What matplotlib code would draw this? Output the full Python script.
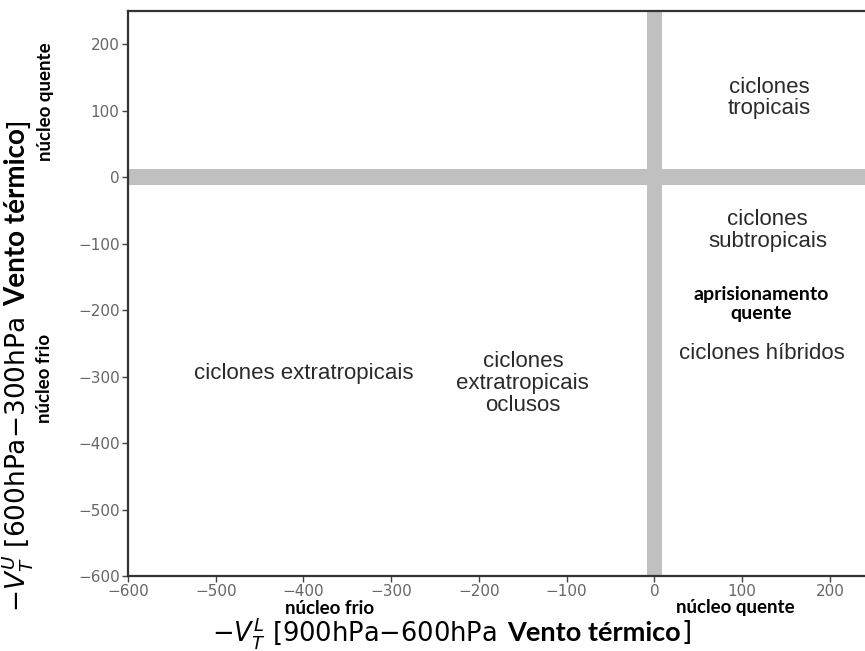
import matplotlib.pyplot as plt

# region labels (x, y in data units) and their texts
region_text = ["ciclones extratropicais",
               "ciclones\nextratropicais\noclusos",
               "ciclones\ntropicais",
               "ciclones\nsubtropicais",
               "ciclones híbridos"]
region_x = [-400, -150, 131, 129, 123]
region_y = [-295, -310, 119, -80, -265]

xticks = [-600, -500, -400, -300, -200, -100, 0, 100, 200]
yticks = [-600, -500, -400, -300, -200, -100, 0, 100, 200]

W, H = 865, 651
fig = plt.figure(figsize=(W / 100, H / 100), dpi=100)
ax = fig.add_axes([128 / W, 1 - 576 / H, 1 - 128 / W, (576 - 11) / H])
ax.set_xlim(-600, 240)
ax.set_ylim(-600, 250)

# gray zero bands
ax.axhspan(-12, 12, color="#c0c0c0", lw=0, zorder=1)
ax.axvspan(-9, 9, color="#c0c0c0", lw=0, zorder=1)

for t, x, y in zip(region_text, region_x, region_y):
    ax.text(x, y, t, ha="center", va="center", fontsize=16,
            family="Liberation Sans", color="#2a2a2a", linespacing=1.05)

ax.text(122, -191, "aprisionamento\nquente", ha="center", va="center",
        fontsize=14, family="Lato", fontweight="bold", color="black",
        linespacing=1.1)

ax.set_xticks(xticks)
ax.set_yticks(yticks)
ax.set_xticklabels([str(v).replace("-", "\u2212") for v in xticks])
ax.set_yticklabels([str(v).replace("-", "\u2212") for v in yticks])
ax.tick_params(labelsize=11, labelcolor="#666666", color="#444444",
               length=4, width=1, pad=2)
for s in ["left", "bottom", "top"]:
    ax.spines[s].set_linewidth(1.6)
    ax.spines[s].set_color("#333333")
ax.spines["right"].set_visible(False)

def fx(px):
    return px / W

def fy(py):
    return 1 - py / H

bold = dict(family="Lato", fontweight="bold", fontsize=13.5, color="black",
            ha="center", va="center")
fig.text(fx(45), fy(102), "núcleo quente", rotation=90, **bold)
fig.text(fx(45), fy(378), "núcleo frio", rotation=90, **bold)
fig.text(fx(330), fy(608), "núcleo frio", **bold)
fig.text(fx(735), fy(608), "núcleo quente", **bold)

# x axis label: regular part, bold part, closing bracket
xl1 = fig.text(fx(212), fy(633), r"$-V_T^L$ [900hPa$-$600hPa  ",
               ha="left", va="center", fontsize=18.5, color="black")
xl2 = ax.annotate("Vento térmico", xy=(1, 0.5), xycoords=xl1,
                  ha="left", va="center", fontsize=19.5, family="Lato",
                  fontweight="bold", color="black")
ax.annotate("]", xy=(1, 0.5), xycoords=xl2, ha="left", va="center",
            fontsize=18.5, color="black")

# y axis label, rotated, built bottom to top
yl1 = fig.text(fx(17), fy(612), r"$-V_T^U$ [600hPa$-$300hPa  ",
               rotation=90, ha="center", va="bottom", fontsize=19,
               color="black")
yl2 = ax.annotate("Vento térmico", xy=(0.5, 1), xycoords=yl1, rotation=90,
                  ha="center", va="bottom", fontsize=20, family="Lato",
                  fontweight="bold", color="black")
ax.annotate("]", xy=(0.5, 1), xycoords=yl2, rotation=90, ha="center",
            va="bottom", fontsize=19, color="black")

fig.savefig("out.png", dpi=100)
